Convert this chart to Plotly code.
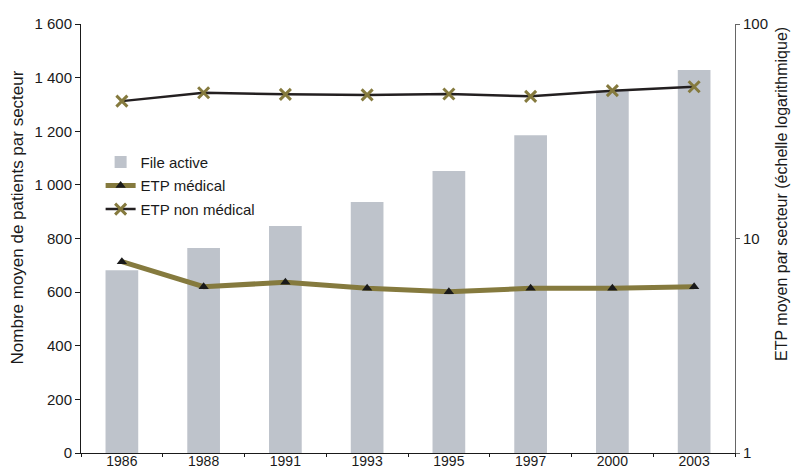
import plotly.graph_objects as go

years = ["1986", "1988", "1991", "1993", "1995", "1997", "2000", "2003"]
file_active = [682, 765, 847, 936, 1052, 1185, 1352, 1428]
etp_medical = [7.8, 5.96, 6.25, 5.86, 5.65, 5.86, 5.86, 5.96]
etp_non_medical = [43.7, 47.8, 47.0, 46.7, 47.2, 46.0, 48.9, 51.0]

left_ticks = [0, 200, 400, 600, 800, 1000, 1200, 1400, 1600]
left_labels = ["0", "200", "400", "600", "800", "1 000", "1 200", "1 400", "1 600"]

font = "Liberation Sans, Arial, sans-serif"

fig = go.Figure()
fig.add_trace(go.Bar(x=years, y=file_active, name="File active", legendgroup="a",
                     marker_color="#bec3cb", marker_line_width=0))
fig.add_trace(go.Scatter(x=years, y=etp_medical, name="ETP médical", yaxis="y2",
                         legendgroup="b", mode="lines+markers",
                         line=dict(color="#857a3e", width=5),
                         marker=dict(symbol="triangle-up", size=9, color="#1a1a1a")))
fig.add_trace(go.Scatter(x=years, y=etp_non_medical, name="ETP non médical", yaxis="y2",
                         legendgroup="c", mode="lines+markers",
                         line=dict(color="#231f20", width=2.5),
                         marker=dict(symbol="x-thin", size=11, color="#857a3e",
                                     line=dict(color="#857a3e", width=3))))

fig.update_layout(
    width=791, height=470,
    margin=dict(l=81, r=56, t=24, b=17),
    plot_bgcolor="white", paper_bgcolor="white",
    font=dict(family=font, size=15, color="#1a1a1a"),
    bargap=0.6,
    showlegend=True,
    legend=dict(x=0.03, y=0.716, xanchor="left", yanchor="top",
                bgcolor="rgba(0,0,0,0)", font=dict(size=15), tracegroupgap=1,
                itemwidth=30),
    xaxis=dict(type="category", showline=True, linecolor="#1a1a1a", linewidth=1,
               ticks="outside", ticklen=3, tickcolor="#1a1a1a", tickson="boundaries",
               ticklabelstandoff=-5, tickfont=dict(size=14),
               showgrid=False, automargin=False),
    xaxis2=dict(overlaying="x", range=[-0.5, 7.5], tick0=-0.5, dtick=1,
                ticks="inside", ticklen=3, tickcolor="#1a1a1a", showticklabels=False,
                showline=False, showgrid=False, zeroline=False, automargin=False,
                anchor="y", side="bottom"),
    yaxis=dict(range=[0, 1600], tickvals=left_ticks, ticktext=left_labels,
               showline=True, linecolor="#1a1a1a", linewidth=1,
               ticks="outside", ticklen=5, tickcolor="#1a1a1a",
               showgrid=False, zeroline=False, automargin=False),
    yaxis2=dict(type="log", range=[0, 2], overlaying="y", side="right",
                tickvals=[1, 10, 100], ticktext=["1", "10", "100"],
                showline=True, linecolor="#666666", linewidth=1,
                ticks="outside", ticklen=4, tickcolor="#666666",
                showgrid=False, zeroline=False, automargin=False),
    yaxis3=dict(type="log", range=[0, 2], overlaying="y", side="right",
                tickvals=[1, 10, 100], showticklabels=False,
                ticks="inside", ticklen=4, tickcolor="#666666",
                showline=False, showgrid=False, zeroline=False, automargin=False),
    annotations=[
        dict(text="Nombre moyen de patients par secteur", textangle=-90,
             xref="paper", yref="paper", x=-0.097, y=0.548, showarrow=False,
             xanchor="center", yanchor="middle", font=dict(size=17)),
        dict(text="ETP moyen par secteur (échelle logarithmique)", textangle=-90,
             xref="paper", yref="paper", x=1.072, y=0.604, showarrow=False,
             xanchor="center", yanchor="middle", font=dict(size=16)),
    ],
)

# drop the browser's default 8px body margin so the figure fills the window
fig.write_html("out.html", config={"displayModeBar": False},
               post_script="document.body.style.margin='0';document.body.style.overflow='hidden';")
